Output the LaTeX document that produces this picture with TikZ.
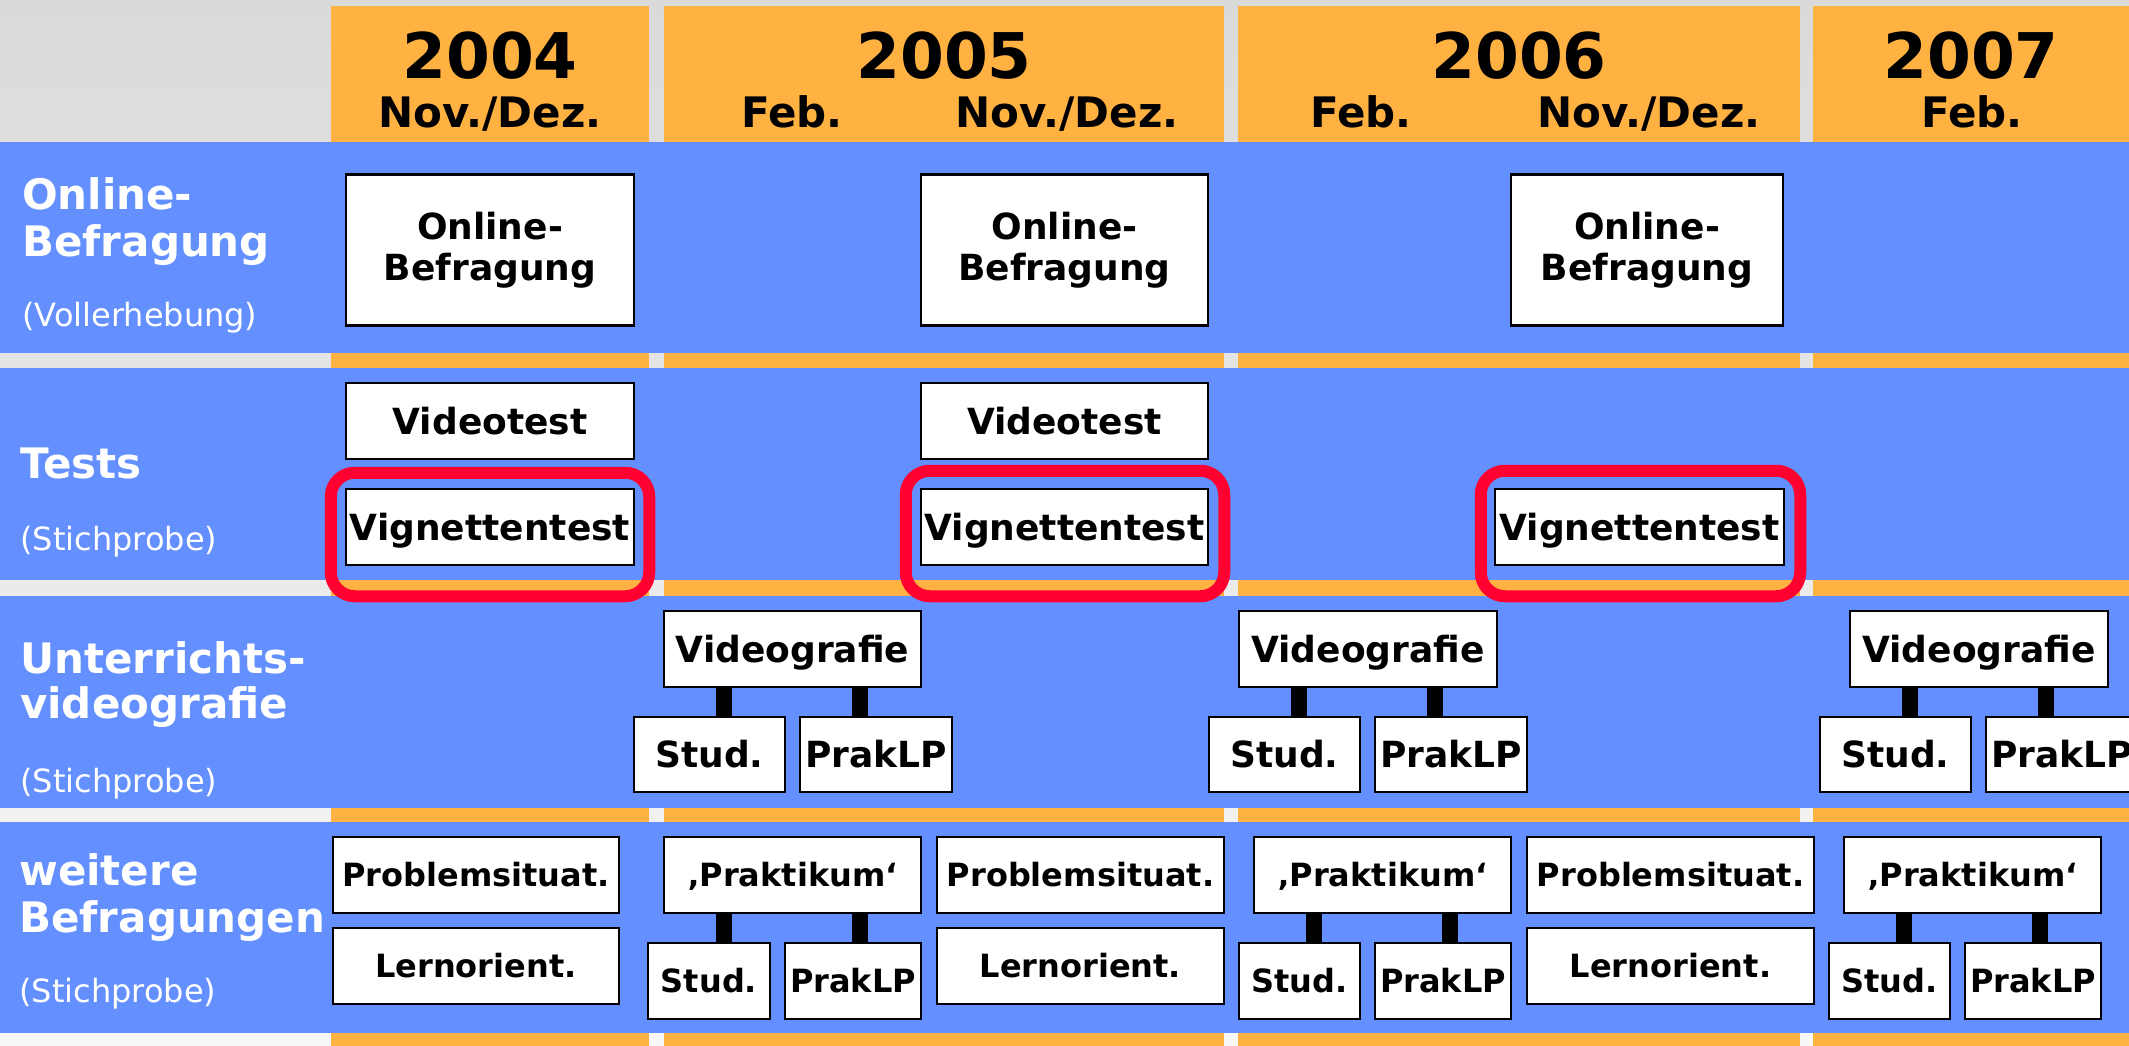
\documentclass[tikz,border=0pt]{standalone}
\usepackage{fontspec}
\setmainfont{DejaVu Sans}
\definecolor{bandblue}{RGB}{99,143,255}
\definecolor{colorange}{RGB}{255,178,66}
\definecolor{ringred}{RGB}{255,0,48}
\definecolor{bgtop}{RGB}{218,218,218}
\definecolor{bgbot}{RGB}{248,248,248}
\begin{document}
\begin{tikzpicture}[x=1pt,y=-1pt,
  box/.style={draw=black, fill=white, line width=2.5pt, inner sep=0pt,
    text height=26.2pt, text depth=0pt, font=\bfseries\fontsize{36}{41}\selectfont},
  sbox/.style={draw=black, fill=white, line width=2.5pt, inner sep=0pt,
    text height=23.3pt, text depth=0pt, font=\bfseries\fontsize{32}{38}\selectfont},
  obox/.style={draw=black, fill=white, line width=2.5pt, inner sep=0pt, align=center,
    font=\bfseries\fontsize{36}{41}\selectfont},
  bar/.style={line width=16pt, black},
  ring/.style={draw=ringred, line width=12pt, rounded corners=24pt},
  lbl/.style={anchor=base west, inner sep=0pt, text=white, font=\bfseries\fontsize{42}{47}\selectfont},
  sub/.style={anchor=base west, inner sep=0pt, text=white, font=\fontsize{32}{37}\selectfont},
  yr/.style={anchor=base, inner sep=0pt, font=\bfseries\fontsize{63}{70}\selectfont},
  mon/.style={anchor=base, inner sep=0pt, font=\bfseries\fontsize{42}{47}\selectfont}
]
\useasboundingbox (0,0) rectangle (2129,1046);
% background
\shade[top color=bgtop, bottom color=bgbot] (0,0) rectangle (2129,1046);
% year columns
\fill[colorange] (331,6) rectangle (649,1046);
\fill[colorange] (664,6) rectangle (1224,1046);
\fill[colorange] (1238,6) rectangle (1800,1046);
\fill[colorange] (1813,6) rectangle (2129,1046);
% bands
\fill[bandblue] (0,142) rectangle (2129,353);
\fill[bandblue] (0,368) rectangle (2129,580);
\fill[bandblue] (0,596) rectangle (2129,808);
\fill[bandblue] (0,822) rectangle (2129,1033);

% header
\node[yr] (y04) at (490,79) {2004};
\node[mon] (m04) at (490,128) {Nov./Dez.};
\node[yr] (y05) at (944,79) {2005};
\node[mon] (f05) at (792,128) {Feb.};
\node[mon] (m05) at (1067,128) {Nov./Dez.};
\node[yr] (y06) at (1519,79) {2006};
\node[mon] (f06) at (1361,128) {Feb.};
\node[mon] (m06) at (1649,128) {Nov./Dez.};
\node[yr] (y07) at (1971,79) {2007};
\node[mon] (f07) at (1972,128) {Feb.};

% row labels
\node[lbl] (la1) at (22,209) {Online-};
\node[lbl] (la2) at (22,256) {Befragung};
\node[sub] (la3) at (22,326) {(Vollerhebung)};
\node[lbl] (lb1) at (20,478) {Tests};
\node[sub] (lb2) at (20,550) {(Stichprobe)};
\node[lbl] (lc1) at (20,673) {Unterrichts-};
\node[lbl] (lc2) at (20,718) {videografie};
\node[sub] (lc3) at (20,792) {(Stichprobe)};
\node[lbl] (ld1) at (19,885) {weitere};
\node[lbl] (ld2) at (19,932) {Befragungen};
\node[sub] (ld3) at (19,1002) {(Stichprobe)};

% band 1
\node[obox, minimum width=288pt, minimum height=151pt] (ob04) at (490,250) {Online-\\Befragung};
\node[obox, minimum width=287pt, minimum height=151pt] (ob05) at (1064.5,250) {Online-\\Befragung};
\node[obox, minimum width=272pt, minimum height=151pt] (ob06) at (1647,250) {Online-\\Befragung};
% band 2
\node[box, minimum width=288pt, minimum height=76pt] (vt04) at (490,421) {Videotest};
\node[box, minimum width=288pt, minimum height=76pt] (vn04) at (490,527) {Vignettentest};
\node[box, minimum width=287pt, minimum height=76pt] (vt05) at (1064.5,421) {Videotest};
\node[box, minimum width=287pt, minimum height=76pt] (vn05) at (1064.5,527) {Vignettentest};
\node[box, minimum width=289pt, minimum height=76pt] (vn06) at (1639.5,527) {Vignettentest};

% band 3
\node[box, minimum width=257pt, minimum height=76pt] (vf05) at (792.5,649) {Videografie};
\node[box, minimum width=151pt, minimum height=75pt] (st05a) at (709.5,754.5) {Stud.};
\node[box, minimum width=152pt, minimum height=75pt] (pl05a) at (876,754.5) {PrakLP};
\node[box, minimum width=258pt, minimum height=76pt] (vf06) at (1368,649) {Videografie};
\node[box, minimum width=151pt, minimum height=75pt] (st06a) at (1284.5,754.5) {Stud.};
\node[box, minimum width=152pt, minimum height=75pt] (pl06a) at (1451,754.5) {PrakLP};
\node[box, minimum width=258pt, minimum height=76pt] (vf07) at (1979,649) {Videografie};
\node[box, minimum width=151pt, minimum height=75pt] (st07a) at (1895.5,754.5) {Stud.};
\node[box, minimum width=152pt, minimum height=75pt] (pl07a) at (2062,754.5) {PrakLP};

% band 4
\node[sbox, minimum width=286pt, minimum height=76pt] (ps04) at (476,875) {Problemsituat.};
\node[sbox, minimum width=286pt, minimum height=76pt] (lo04) at (476,966) {Lernorient.};
\node[sbox, minimum width=257pt, minimum height=76pt] (pk05) at (792.5,875) {‚Praktikum‘};
\node[sbox, minimum width=122pt, minimum height=76pt] (st05b) at (709,981) {Stud.};
\node[sbox, minimum width=136pt, minimum height=76pt] (pl05b) at (853,981) {PrakLP};
\node[sbox, minimum width=287pt, minimum height=76pt] (ps05) at (1080.5,875) {Problemsituat.};
\node[sbox, minimum width=287pt, minimum height=76pt] (lo05) at (1080.5,966) {Lernorient.};
\node[sbox, minimum width=257pt, minimum height=76pt] (pk06) at (1382.5,875) {‚Praktikum‘};
\node[sbox, minimum width=121pt, minimum height=76pt] (st06b) at (1299.5,981) {Stud.};
\node[sbox, minimum width=136pt, minimum height=76pt] (pl06b) at (1443,981) {PrakLP};
\node[sbox, minimum width=287pt, minimum height=76pt] (ps06) at (1670.5,875) {Problemsituat.};
\node[sbox, minimum width=287pt, minimum height=76pt] (lo06) at (1670.5,966) {Lernorient.};
\node[sbox, minimum width=257pt, minimum height=76pt] (pk07) at (1972.5,875) {‚Praktikum‘};
\node[sbox, minimum width=121pt, minimum height=76pt] (st07b) at (1889.5,981) {Stud.};
\node[sbox, minimum width=136pt, minimum height=76pt] (pl07b) at (2033,981) {PrakLP};

% connector bars
\foreach \p/\s/\q in {vf05/st05a/pl05a, vf06/st06a/pl06a, vf07/st07a/pl07a,
                      pk05/st05b/pl05b, pk06/st06b/pl06b, pk07/st07b/pl07b}{
  \draw[bar] ([xshift=61pt]\p.south west) -- ([xshift=61pt]\p.south west |- \s.north);
  \draw[bar] ([xshift=197pt]\p.south west) -- ([xshift=197pt]\p.south west |- \q.north);
}

% red rings
\draw[ring] ([shift={(-14,-15)}]vn04.north west) rectangle ([shift={(14,30)}]vn04.south east);
\draw[ring] ([shift={(-14,-17)}]vn05.north west) rectangle ([shift={(15,30)}]vn05.south east);
\draw[ring] ([shift={(-13,-17)}]vn06.north west) rectangle ([shift={(15,30)}]vn06.south east);
\end{tikzpicture}
\end{document}
